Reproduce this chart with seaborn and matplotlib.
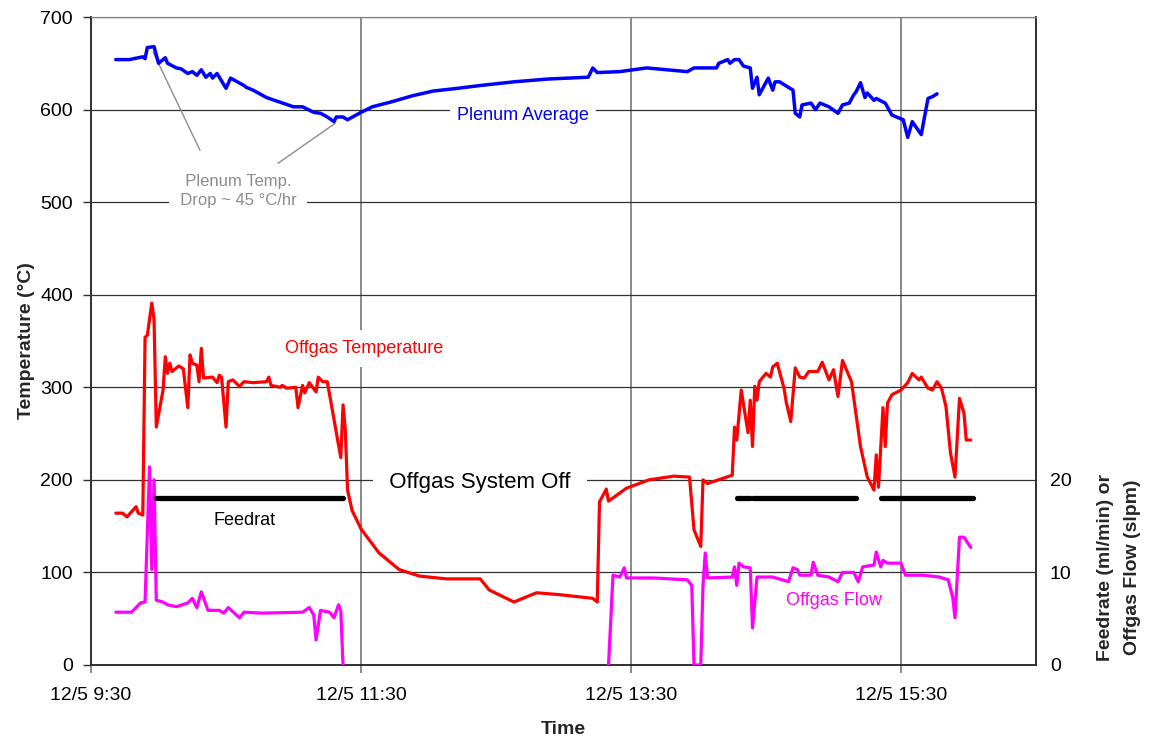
import matplotlib
matplotlib.use("Agg")
import matplotlib.pyplot as plt
import seaborn as sns
import pandas as pd

# ---------------- data ----------------
plenum_times = ["9:41", "9:47", "9:53", "9:54", "9:55", "9:58", "10:00", "10:02", "10:03", "10:04",
                "10:08", "10:10", "10:13", "10:15", "10:17", "10:19", "10:21", "10:23", "10:24", "10:26",
                "10:29", "10:30", "10:32", "10:35", "10:38", "10:39", "10:42", "10:48", "10:54", "11:00",
                "11:04", "11:09", "11:12", "11:15", "11:18", "11:19", "11:22", "11:24", "11:30", "11:35",
                "11:43", "11:53", "12:02", "12:13", "12:23", "12:38", "12:53", "13:11", "13:13", "13:15",
                "13:25", "13:37", "13:55", "13:58", "14:08", "14:09", "14:13", "14:14", "14:16", "14:18",
                "14:20", "14:23", "14:24", "14:26", "14:27", "14:31", "14:33", "14:34", "14:36", "14:42",
                "14:43", "14:45", "14:46", "14:50", "14:52", "14:54", "14:58", "15:02", "15:04", "15:07",
                "15:09", "15:10", "15:12", "15:14", "15:15", "15:18", "15:19", "15:23", "15:26", "15:31",
                "15:33", "15:35", "15:39", "15:42", "15:44", "15:46"]
plenum_temp = [654, 654, 657, 655, 667, 668, 650, 654, 656, 650,
               645, 644, 639, 641, 637, 643, 635, 639, 634, 639,
               627, 623, 634, 630, 626, 624, 621, 613, 608, 603,
               603, 597, 596, 592, 587, 592, 592, 589, 597, 603,
               608, 615, 620, 623, 626, 630, 633, 635, 645, 640,
               641, 645, 641, 645, 645, 650, 654, 650, 654, 654,
               647, 645, 623, 635, 616, 634, 621, 630, 630, 621,
               596, 592, 605, 607, 600, 607, 603, 596, 605, 607,
               616, 619, 629, 613, 618, 610, 612, 607, 594, 589,
               570, 587, 573, 612, 614, 617]

offgas_times = ["9:41", "9:44", "9:46", "9:50", "9:51", "9:53", "9:54", "9:55", "9:57", "9:58",
                "9:59", "10:02", "10:03", "10:04", "10:05", "10:06", "10:09", "10:11", "10:13", "10:14",
                "10:15", "10:17", "10:18", "10:19", "10:20", "10:24", "10:26", "10:27", "10:28", "10:30",
                "10:31", "10:33", "10:36", "10:38", "10:42", "10:48", "10:49", "10:50", "10:54", "10:55",
                "10:57", "11:01", "11:02", "11:04", "11:05", "11:07", "11:10", "11:11", "11:13", "11:15",
                "11:17", "11:18", "11:21", "11:22", "11:23", "11:24", "11:26", "11:30", "11:38", "11:47",
                "11:56", "12:08", "12:23", "12:27", "12:38", "12:48", "12:58", "13:13", "13:15", "13:16",
                "13:19", "13:20", "13:28", "13:38", "13:49", "13:56", "13:58", "14:01", "14:02", "14:04",
                "14:15", "14:16", "14:17", "14:19", "14:22", "14:23", "14:24", "14:25", "14:26", "14:27",
                "14:30", "14:32", "14:33", "14:35", "14:38", "14:39", "14:41", "14:43", "14:45", "14:47",
                "14:49", "14:53", "14:55", "14:58", "15:00", "15:02", "15:04", "15:08", "15:12", "15:15",
                "15:18", "15:19", "15:20", "15:22", "15:23", "15:24", "15:26", "15:30", "15:33", "15:35",
                "15:38", "15:39", "15:42", "15:44", "15:46", "15:48", "15:50", "15:52", "15:54", "15:56",
                "15:58", "15:59", "16:01"]
offgas_temp = [164, 164, 160, 171, 164, 162, 354, 356, 391, 373,
               257, 297, 333, 315, 326, 317, 323, 320, 278, 335,
               326, 324, 306, 342, 310, 311, 305, 313, 311, 257,
               306, 308, 301, 306, 305, 306, 311, 302, 300, 302,
               299, 300, 278, 302, 294, 305, 295, 311, 306, 306,
               279, 265, 224, 281, 254, 189, 167, 147, 121, 103,
               96, 93, 93, 81, 68, 78, 76, 72, 68, 176,
               190, 177, 191, 200, 204, 203, 146, 128, 200, 196,
               205, 257, 243, 297, 251, 286, 236, 301, 286, 306,
               315, 311, 322, 326, 299, 284, 263, 321, 311, 310,
               317, 317, 327, 308, 319, 290, 329, 306, 236, 203,
               189, 227, 192, 278, 236, 283, 292, 297, 305, 315,
               308, 311, 299, 297, 306, 299, 279, 229, 203, 288,
               272, 243, 243]

flow_times = ["9:41", "9:48", "9:52", "9:54", "9:56", "9:57", "9:58", "9:59", "10:02", "10:04",
              "10:08", "10:13", "10:15", "10:17", "10:19", "10:22", "10:27", "10:29", "10:31", "10:36",
              "10:38", "10:46", "11:04", "11:07", "11:09", "11:10", "11:12", "11:16", "11:18", "11:20",
              "11:21", "11:22",
              "13:20", "13:22", "13:25", "13:27", "13:28", "13:40", "13:55", "13:57", "13:58", "14:01",
              "14:02", "14:03", "14:04", "14:15", "14:16", "14:17", "14:18", "14:20", "14:23", "14:24",
              "14:26", "14:33", "14:40", "14:42", "14:44", "14:45", "14:50", "14:51", "14:53", "14:58",
              "15:02", "15:04", "15:09", "15:11", "15:13", "15:18", "15:19", "15:21", "15:22", "15:24",
              "15:30", "15:32", "15:40", "15:47", "15:51", "15:53", "15:54", "15:56", "15:58", "16:01"]
flow_vals = [5.7, 5.7, 6.7, 6.8, 21.4, 10.3, 20.0, 7.0, 6.8, 6.5,
             6.3, 6.7, 7.2, 6.2, 7.9, 5.9, 5.9, 5.6, 6.2, 5.1,
             5.7, 5.6, 5.7, 6.2, 5.4, 2.7, 5.9, 5.7, 5.1, 6.5,
             5.9, 0.0,
             0.0, 9.7, 9.5, 10.5, 9.4, 9.4, 9.2, 8.6, 0.0, 0.0,
             8.6, 12.1, 9.4, 9.5, 10.6, 8.6, 11.0, 10.6, 10.5, 4.0,
             9.5, 9.5, 9.0, 10.5, 10.3, 9.7, 9.7, 11.1, 9.7, 9.5,
             9.0, 10.0, 10.0, 9.0, 10.6, 10.8, 12.2, 10.6, 11.3, 11.0,
             11.0, 9.7, 9.7, 9.5, 9.2, 7.3, 5.1, 13.8, 13.8, 12.7]
flow_seg = [1] * 32 + [2] * 50

feed_times = ["9:59", "11:22", "14:17", "14:23", "14:24", "15:10", "15:21", "16:02"]
feed_vals = [18, 18, 18, 18, 18, 18, 18, 18]
feed_seg = [1, 1, 2, 2, 3, 3, 4, 4]

xtick_times = ["9:30", "11:30", "13:30", "15:30"]
xtick_labels = ["12/5 9:30", "12/5 11:30", "12/5 13:30", "12/5 15:30"]


def to_hours(s):
    h, m = s.split(":")
    return int(h) + int(m) / 60.0


plenum_df = pd.DataFrame({"t": [to_hours(s) for s in plenum_times], "v": plenum_temp})
offgas_df = pd.DataFrame({"t": [to_hours(s) for s in offgas_times], "v": offgas_temp})
flow_df = pd.DataFrame({"t": [to_hours(s) for s in flow_times], "v": flow_vals, "seg": flow_seg})
feed_df = pd.DataFrame({"t": [to_hours(s) for s in feed_times], "v": feed_vals, "seg": feed_seg})

# ---------------- style ----------------
sns.set_style("white")
plt.rcParams["font.family"] = ["Liberation Sans", "DejaVu Sans"]

fig, ax = plt.subplots(figsize=(11.57, 7.40), dpi=100)
fig.subplots_adjust(left=0.0787, right=0.8954, top=0.977, bottom=0.1014)
ax2 = ax.twinx()

# ---------------- lines ----------------
sns.lineplot(data=plenum_df, x="t", y="v", ax=ax, color="#0000FF", lw=2.5,
             sort=False, estimator=None, zorder=4)
sns.lineplot(data=offgas_df, x="t", y="v", ax=ax, color="#FF0000", lw=2.3,
             sort=False, estimator=None, zorder=4)
sns.lineplot(data=flow_df, x="t", y="v", units="seg", ax=ax2, color="#FF00FF", lw=2.3,
             sort=False, estimator=None, zorder=4)
sns.lineplot(data=feed_df, x="t", y="v", units="seg", ax=ax2, color="black", lw=3.8,
             sort=False, estimator=None, zorder=4, solid_capstyle="round")

# ---------------- axes ----------------
xt = [to_hours(s) for s in xtick_times]
ax.set_xlim(9.5, 16.5)
ax.set_ylim(0, 700)
ax.set_yticks(range(0, 701, 100))
ax.set_xticks(xt)
ax.set_xticklabels(xtick_labels)
ax2.set_ylim(0, 70)
ax2.set_yticks([0, 10, 20])
ax2.set_xlim(9.5, 16.5)

ax.yaxis.grid(True, color="#303030", lw=0.9)
ax.xaxis.grid(True, color="#808080", lw=1.3)
ax.set_axisbelow(True)

ax.tick_params(axis="y", which="both", left=True, length=6, width=1, color="#303030",
               pad=7, labelsize=14, labelcolor="black", direction="out")
ax.tick_params(axis="x", which="both", bottom=True, length=6, width=1.3, color="#808080",
               pad=10, labelsize=14, labelcolor="black", direction="out")
ax2.tick_params(axis="y", right=True, length=0, pad=10, labelsize=14, labelcolor="black")

for s in ["left", "bottom", "right"]:
    ax.spines[s].set_color("#303030")
    ax2.spines[s].set_color("#303030")
    ax.spines[s].set_linewidth(1.2)
    ax2.spines[s].set_linewidth(1.2)
ax.spines["top"].set_color("#808080")
ax2.spines["top"].set_color("#808080")

ax.set_xlabel("Time", fontsize=14, fontweight="bold")
ax.xaxis.set_label_coords(0.4995, -0.086)
ax.set_ylabel("Temperature (°C)", fontsize=14, fontweight="bold")
ax.yaxis.set_label_coords(-0.059, 0.5)
ax2.set_ylabel("")

fig.text(1119 / 1157, 1 - 567 / 740, "Feedrate (ml/min) or\nOffgas Flow (slpm)",
         rotation=90, ha="center", va="center", fontsize=14, fontweight="bold",
         multialignment="center", linespacing=1.7)

# ---------------- annotations ----------------
white = dict(facecolor="white", edgecolor="none", pad=3)
ax.text(12.70, 594, "Plenum Average", color="#0000FF", fontsize=13, ha="center", va="center",
        bbox=dict(facecolor="white", edgecolor="none", pad=5), zorder=3)
ax.text(11.522, 342, "Offgas Temperature", color="#FF0000", fontsize=13, ha="center",
        va="center", bbox=dict(facecolor="white", edgecolor="none", pad=7), zorder=3)
ax.text(12.38, 197.6, "  Offgas System Off  ", color="black", fontsize=16, ha="center",
        va="center", bbox=white, zorder=3)
ax.text(10.64, 156.6, "Feedrat", color="black", fontsize=13, ha="center", va="center", zorder=3)
ax.text(15.0, 70, "Offgas Flow", color="#FF00FF", fontsize=13, ha="center", va="center", zorder=3)
ax.text(10.589, 512, "  Plenum Temp.  \n  Drop ~ 45 °C/hr  ", color="#8c8c8c", fontsize=12,
        ha="center", va="center", multialignment="center", linespacing=1.3,
        bbox=dict(facecolor="white", edgecolor="none", pad=1), zorder=3)
ax.plot([9.96, 10.307], [662, 556], color="#8c8c8c", lw=1.0, zorder=3)
ax.plot([10.885, 11.307], [542, 585], color="#8c8c8c", lw=1.0, zorder=3)

fig.savefig("out.png", dpi=100)
